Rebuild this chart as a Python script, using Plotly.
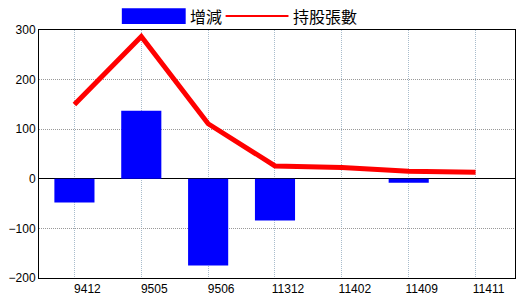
import plotly.graph_objects as go

categories = ["9412", "9505", "9506", "11312", "11402", "11409", "11411"]
change_values = [-48, 137, -175, -84, 0, -8, 0]
holding_values = [150, 287, 111, 26, 23, 15, 13]
y_ticks = [-200, -100, 0, 100, 200, 300]

W, H = 520, 300
ML, MR, MT, MB = 39, 4, 30, 20
PW, PH = W - ML - MR, H - MT - MB

def px_x(p):
    return (p - ML) / PW

def px_y(p):
    return (H - MB - p) / PH

x_idx = list(range(len(categories)))

fig = go.Figure()
fig.add_trace(go.Bar(x=x_idx, y=change_values, name="增減", marker_color="#0000ff",
                     marker_line_width=0, width=0.6))
fig.add_trace(go.Scatter(x=x_idx, y=holding_values, name="持股張數", mode="lines",
                         line=dict(color="#ff0000", width=5)))

# manual legend
fig.add_shape(type="rect", xref="paper", yref="paper", x0=px_x(122), x1=px_x(186),
              y0=px_y(24), y1=px_y(8), fillcolor="#0000ff", line_width=0)
fig.add_annotation(xref="paper", yref="paper", x=px_x(188), y=px_y(16), text="增減",
                   showarrow=False, xanchor="left", yanchor="middle",
                   font=dict(family="Noto Sans CJK TC", size=16, color="black"))
fig.add_shape(type="line", xref="paper", yref="paper", x0=px_x(226), x1=px_x(289),
              y0=px_y(16), y1=px_y(16), line=dict(color="#ff0000", width=2))
fig.add_annotation(xref="paper", yref="paper", x=px_x(292), y=px_y(16), text="持股張數",
                   showarrow=False, xanchor="left", yanchor="middle",
                   font=dict(family="Noto Sans CJK TC", size=16, color="black"))

fig.update_layout(
    width=W, height=H, margin=dict(l=ML, r=MR, t=MT, b=MB),
    paper_bgcolor="white", plot_bgcolor="white", showlegend=False,
    font=dict(family="Liberation Sans", size=12, color="black"),
    xaxis=dict(tickvals=x_idx, ticktext=categories, range=[-0.53, 6.59],
               showgrid=True, gridcolor="#a8bccc", griddash="1px,1px", gridwidth=1,
               showline=True, linecolor="black", linewidth=1, mirror=True,
               ticks="", ticklabelshift=13, zeroline=False, fixedrange=True),
    yaxis=dict(tickvals=y_ticks, range=[-200, 300],
               showgrid=True, gridcolor="#999999", griddash="1px,1px", gridwidth=1,
               showline=True, linecolor="black", linewidth=1, mirror=True,
               ticks="", zeroline=True, zerolinecolor="black", zerolinewidth=1,
               fixedrange=True),
)

fig.write_html("out.html")
